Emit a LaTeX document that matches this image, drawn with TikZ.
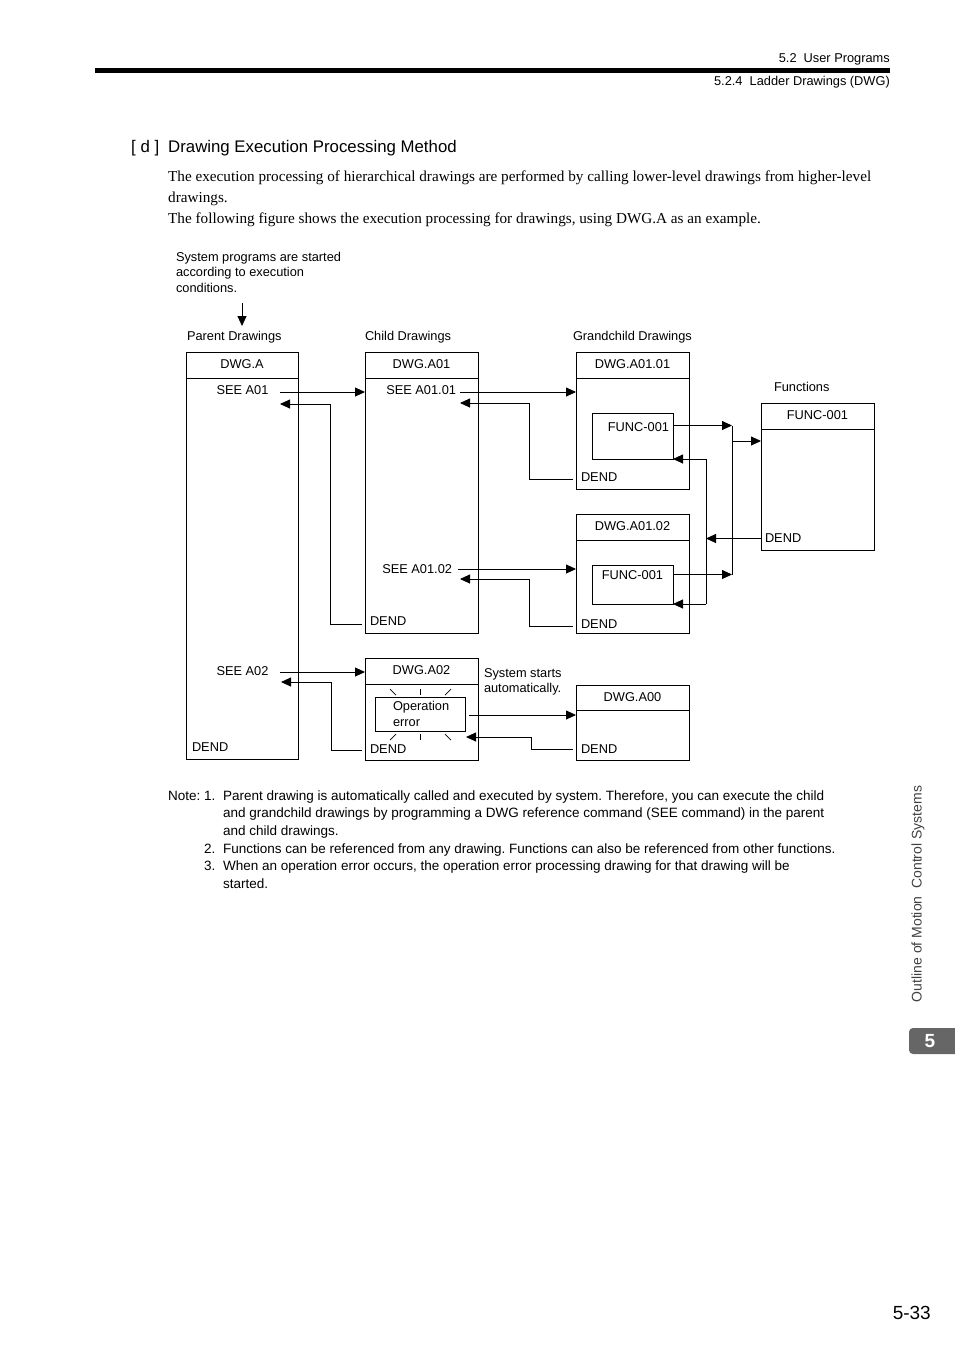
\documentclass[tikz,border=0pt]{standalone}
\usepackage{fontspec}
\setmainfont{Liberation Serif}
\setsansfont{Liberation Sans}
\usetikzlibrary{arrows.meta}
\frenchspacing
\newcommand{\dbox}[7]{%
  \node[box, minimum width=#4pt, minimum height=#5pt] (#1) at (#2,#3) {};
  \draw[ln] ([yshift=-#6pt]#1.north west) -- ([yshift=-#6pt]#1.north east);
  \node[lbl, anchor=base] (#1t) at ([yshift=-16pt]#1.north) {#7};
}
\begin{document}
\frenchspacing
\begin{tikzpicture}[x=1pt,y=-1pt,
  lbl/.style={font=\sffamily\fontsize{12.8}{15}\selectfont, inner sep=0pt, outer sep=0pt},
  box/.style={draw, line width=0.9pt, inner sep=0pt, outer sep=0pt, anchor=north west},
  ln/.style={line width=0.9pt},
  ray/.style={line width=0.7pt},
  arr/.style={line width=0.9pt, -{Triangle[length=10pt,width=9pt]}},
  body/.style={font=\rmfamily\fontsize{15.2}{21}\selectfont, inner sep=0pt, anchor=base west},
  note/.style={font=\sffamily\fontsize{13.5}{15}\selectfont, inner sep=0pt, anchor=base west},
  head/.style={font=\sffamily\fontsize{12.8}{15}\selectfont, inner sep=0pt, anchor=base east},
]
\useasboundingbox (0,0) rectangle (954,1350);
% header
\node[head] (h1) at (890,62) {5.2\ \ User Programs};
\fill (95,68) rectangle (890,73);
\node[head] (h2) at (890,85) {5.2.4\ \ Ladder Drawings (DWG)};
% title
\node[inner sep=0pt, anchor=base west, font=\sffamily\fontsize{16.8}{20}\selectfont] (t0) at (131,152) {[ d ]};
\node[inner sep=0pt, anchor=base west, font=\sffamily\fontsize{16.8}{20}\selectfont] (t1) at (168,152) {Drawing Execution Processing Method};
% body
\node[body] (b1) at (168,181) {The execution processing of hierarchical drawings are performed by calling lower-level drawings from higher-level};
\node[body] (b2) at (168,202) {drawings.};
\node[body] (b3) at (168,223) {The following figure shows the execution processing for drawings, using DWG.A as an example.};
% diagram labels
\node[lbl, anchor=base west] (s1) at (176,261.5) {System programs are started};
\node[lbl, anchor=base west] (s2) at (176,276.5) {according to execution};
\node[lbl, anchor=base west] (s3) at (176,292) {conditions.};
\coordinate (st0) at (242,303);
\coordinate (st1) at (242,326);
\draw[arr] (st0) -- (st1);
\node[lbl, anchor=base west] (lp) at (187,340.5) {Parent Drawings};
\node[lbl, anchor=base west] (lc) at (365,340.5) {Child Drawings};
\node[lbl, anchor=base west] (lg) at (573,340.5) {Grandchild Drawings};
\node[lbl, anchor=base west] (lf) at (774,391.5) {Functions};
% boxes
\dbox{DA}{186}{352}{112}{407}{26}{DWG.A}
\dbox{A01}{365}{352}{113}{281}{26}{DWG.A01}
\dbox{A0101}{576}{352}{113}{137}{26}{DWG.A01.01}
\dbox{A0102}{576}{514}{113}{119}{26}{DWG.A01.02}
\dbox{FN}{761}{403}{113}{147}{26}{FUNC-001}
\dbox{A02}{365}{658}{113}{102}{26}{DWG.A02}
\dbox{A00}{576}{685}{113}{75}{25}{DWG.A00}
\node[box, minimum width=81pt, minimum height=46pt] (F1) at (592,413) {};
\node[box, minimum width=81pt, minimum height=39pt] (F2) at (592,565) {};
\node[box, minimum width=90pt, minimum height=34pt] (OE) at (375,697) {};
% texts in boxes
\node[lbl, anchor=base] (seeA01) at (242.5,394.5) {SEE A01};
\node[lbl, anchor=base] (seeA02) at (242.5,675.5) {SEE A02};
\node[lbl, anchor=base west] (dA) at (192,751.5) {DEND};
\node[lbl, anchor=base east] (see0101) at (456,394.5) {SEE A01.01};
\node[lbl, anchor=base east] (see0102) at (452,573.5) {SEE A01.02};
\node[lbl, anchor=base west] (d01) at (370,625.5) {DEND};
\node[lbl, anchor=base east] (f1t) at (669,431.5) {FUNC-001};
\node[lbl, anchor=base west] (d0101) at (581,481.5) {DEND};
\node[lbl, anchor=base] (f2t) at (632.5,579.5) {FUNC-001};
\node[lbl, anchor=base west] (d0102) at (581,628.5) {DEND};
\node[lbl, anchor=base west] (dfn) at (765,542.5) {DEND};
\node[lbl, anchor=base west] (op1) at (393,710.5) {Operation};
\node[lbl, anchor=base west] (op2) at (393,726.5) {error};
\node[lbl, anchor=base west] (d02) at (370,753.5) {DEND};
\node[lbl, anchor=base west] (sy1) at (484,677.5) {System starts};
\node[lbl, anchor=base west] (sy2) at (484,692.5) {automatically.};
\node[lbl, anchor=base west] (d00) at (581,753.5) {DEND};
% rays
\draw[ray] (390,689) -- (396,695);
\draw[ray] (420,689) -- (420,695);
\draw[ray] (451,689) -- (445,695);
\draw[ray] (390,740) -- (396,734);
\draw[ray] (420,734) -- (420,740);
\draw[ray] (451,740) -- (445,734);
% connectors parent-child
\coordinate (a1) at (280,392);
\draw[arr] (a1) -- (a1 -| A01.west);
\coordinate (r1) at (362,624); \coordinate (r1k) at (330,404); \coordinate (r1e) at (280,404);
\draw[arr] (r1) -| (r1k) -- (r1e);
\coordinate (a2) at (280,672);
\draw[arr] (a2) -- (a2 -| A02.west);
\coordinate (r2) at (362,750); \coordinate (r2k) at (331,682); \coordinate (r2e) at (281,682);
\draw[arr] (r2) -| (r2k) -- (r2e);
% child-grandchild
\coordinate (a3) at (460,392);
\draw[arr] (a3) -- (a3 -| A0101.west);
\coordinate (r3) at (573,479); \coordinate (r3k) at (529,403); \coordinate (r3e) at (460,403);
\draw[arr] (r3) -| (r3k) -- (r3e);
\coordinate (a4) at (458,569);
\draw[arr] (a4) -- (a4 -| A0102.west);
\coordinate (r4) at (573,626); \coordinate (r4k) at (529,579); \coordinate (r4e) at (460,579);
\draw[arr] (r4) -| (r4k) -- (r4e);
% functions
\coordinate (c1) at (732,425.5);
\coordinate (c2) at (732,574.5);
\coordinate (c3) at (732,441);
\draw[arr] (c1 -| F1.east) -- (c1);
\draw[arr] (c2 -| F2.east) -- (c2);
\draw[ln] (c1) -- (c2);
\draw[arr] (c3) -- (c3 -| FN.west);
\coordinate (v1) at (706,459);
\coordinate (v2) at (706,604);
\coordinate (v3) at (706,538.5);
\draw[ln] (v1) -- (v2);
\draw[arr] (v3 -| FN.west) -- (v3);
\draw[arr] (v1) -- (v1 -| F1.east);
\draw[arr] (v2) -- (v2 -| F2.east);
% operation error
\coordinate (e1) at (469,715);
\draw[arr] (e1) -- (e1 -| A00.west);
\coordinate (r5) at (573,749); \coordinate (r5k) at (531,737); \coordinate (r5e) at (466,737);
\draw[arr] (r5) -| (r5k) -- (r5e);
% notes
\node[note] (n0) at (168,800.5) {Note: 1.};
\node[note] (n1) at (223,800.5) {Parent drawing is automatically called and executed by system. Therefore, you can execute the child};
\node[note] (n1b) at (223,817.5) {and grandchild drawings by programming a DWG reference command (SEE command) in the parent};
\node[note] (n1c) at (223,835.5) {and child drawings.};
\node[note] (n2n) at (204,853.5) {2.};
\node[note] (n2) at (223,853.5) {Functions can be referenced from any drawing. Functions can also be referenced from other functions.};
\node[note] (n3n) at (204,870.5) {3.};
\node[note] (n3) at (223,870.5) {When an operation error occurs, the operation error processing drawing for that drawing will be};
\node[note] (n3b) at (223,888.5) {started.};
% side tab
\node[rotate=90, inner sep=0pt, font=\sffamily\fontsize{14}{16}\selectfont, text=black!75] (side) at (918,894) {Outline of Motion\ \ Control Systems};
\fill[black!60, rounded corners=4pt] (909,1028) rectangle (964,1054);
\node[inner sep=0pt, text=white, font=\sffamily\bfseries\fontsize{19}{22}\selectfont] (five) at (930,1041) {5};
\node[inner sep=0pt, anchor=base east, font=\sffamily\fontsize{19}{22}\selectfont] (pg) at (931,1319) {5-33};
\end{tikzpicture}
\end{document}
